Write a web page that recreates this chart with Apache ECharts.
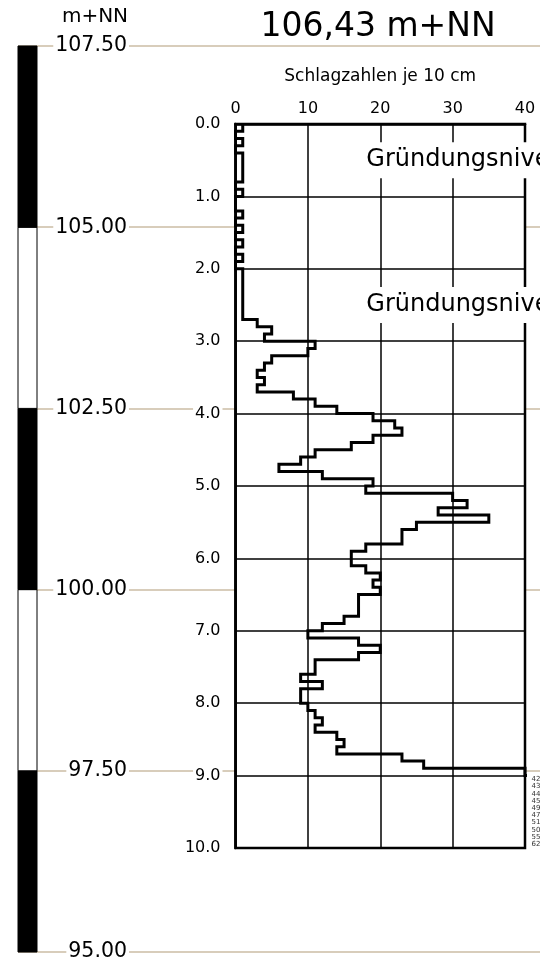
<!DOCTYPE html>
<html>
<head>
<meta charset="utf-8">
<title>Rammsondierung</title>
<script src="https://cdn.jsdelivr.net/npm/echarts@6/dist/echarts.min.js"></script>
<style>
  html, body { margin: 0; padding: 0; background: #fff; }
  #chart { width: 540px; height: 968px; }
</style>
</head>
<body>
<div id="chart"></div>
<script>
// Elevation scale (m+NN) on the left, bands listed from bottom to top
const elevationTicks = [95, 97.5, 100, 102.5, 105, 107.5];
const elevationBandColors = ['#000', '#fff', '#000', '#fff', '#000'];
const elevationUnit = 'm+NN';
const groundLevelText = '106,43 m+NN';

// Blow counts per 10 cm, starting at 0.0 m depth
const depthStep = 0.1;
const blowCounts = [
  1, 0, 1, 0, 1, 1, 1, 1, 0, 1,          // 0.0 - 0.9
  0, 0, 1, 0, 1, 0, 1, 0, 1, 0,          // 1.0 - 1.9
  1, 1, 1, 1, 1, 1, 1, 3, 5, 4,          // 2.0 - 2.9
  11, 10, 5, 4, 3, 4, 3, 8, 11, 14,      // 3.0 - 3.9
  19, 22, 23, 19, 16, 11, 9, 6, 12, 19,  // 4.0 - 4.9
  18, 30, 32, 28, 35, 25, 23, 23, 18, 16,// 5.0 - 5.9
  16, 18, 20, 19, 20, 17, 17, 17, 15, 12,// 6.0 - 6.9
  10, 17, 20, 17, 11, 11, 9, 12, 9, 9,   // 7.0 - 7.9
  10, 11, 12, 11, 14, 15, 14, 23, 26, 40,// 8.0 - 8.9
  42, 43, 44, 45, 49, 47, 51, 50, 55, 62 // 9.0 - 9.9
];
const blowAxisTicks = [0, 10, 20, 30, 40];
const depthRange = [0, 10];
const blowAxisTitle = 'Schlagzahlen je 10 cm';

// Foundation levels (depth in m)
const foundationDepths = [0.5, 2.5];
const foundationText = 'Gründungsniveau';

const FONT = 'DejaVu Sans';
const blowMax = blowAxisTicks[blowAxisTicks.length - 1];

// Step outline: each 10 cm interval becomes a vertical segment at its blow count
const stepPoints = [];
blowCounts.forEach((v, i) => {
  const top = +(i * depthStep).toFixed(1);
  const bottom = +((i + 1) * depthStep).toFixed(1);
  stepPoints.push([v, top], [v, bottom]);
});

// Counts beyond the axis maximum are written next to the plot
const overflowPoints = [];
blowCounts.forEach((v, i) => {
  if (v > blowMax) overflowPoints.push([blowMax, +(i * depthStep + depthStep / 2).toFixed(2), v]);
});

const bandData = elevationBandColors.map((c, i) => [elevationTicks[i], elevationTicks[i + 1], i]);

const chart = echarts.init(document.getElementById('chart'), null, { renderer: 'canvas' });

const option = {
  animation: false,
  backgroundColor: '#fff',
  textStyle: { fontFamily: FONT },
  title: [
    {
      text: elevationUnit, left: 95, top: 7, textAlign: 'center', padding: 0,
      textStyle: { fontFamily: FONT, fontSize: 20, fontWeight: 'normal', color: '#000' }
    },
    {
      text: groundLevelText, left: 378, top: 11, textAlign: 'center', padding: 0,
      textStyle: { fontFamily: FONT, fontSize: 33, fontWeight: 'normal', color: '#000' }
    }
  ],
  grid: [
    { left: 18, right: 0, top: 46, height: 906, z: 0, outerBoundsMode: 'none' },
    {
      left: 235.5, width: 289.5, top: 124, height: 724, z: 2, outerBoundsMode: 'none',
      show: true, backgroundColor: '#fff', borderColor: '#000', borderWidth: 2.5
    }
  ],
  xAxis: [
    { gridIndex: 0, type: 'value', min: 0, max: 1, show: false },
    {
      gridIndex: 1, type: 'value', position: 'top', z: 3,
      min: blowAxisTicks[0], max: blowMax, interval: blowAxisTicks[1] - blowAxisTicks[0],
      name: blowAxisTitle, nameLocation: 'middle', nameGap: 39,
      nameTextStyle: { fontFamily: FONT, fontSize: 17, color: '#000' },
      axisLine: { show: true, lineStyle: { color: '#000', width: 2.5 } },
      axisTick: { show: false },
      axisLabel: { fontFamily: FONT, fontSize: 16, color: '#000', margin: 7 },
      splitLine: { show: true, lineStyle: { color: '#000', width: 1.5 } }
    }
  ],
  yAxis: [
    {
      gridIndex: 0, type: 'value', z: 0,
      min: elevationTicks[0], max: elevationTicks[elevationTicks.length - 1],
      interval: elevationTicks[1] - elevationTicks[0],
      axisLine: { show: false }, axisTick: { show: false },
      axisLabel: {
        inside: true, align: 'right', margin: 111,
        fontFamily: FONT, fontSize: 20.5, color: '#000',
        backgroundColor: '#fff', padding: [0, 2],
        formatter: v => v.toFixed(2)
      },
      splitLine: { show: true, lineStyle: { color: '#cbbda5', width: 1.5 } }
    },
    {
      gridIndex: 1, type: 'value', inverse: true, z: 3,
      min: depthRange[0], max: depthRange[1], interval: 1,
      axisLine: { show: true, lineStyle: { color: '#000', width: 2.5 } },
      axisTick: { show: false },
      axisLabel: {
        fontFamily: FONT, fontSize: 16, color: '#000', margin: 13,
        backgroundColor: '#fff', padding: [2, 2],
        formatter: v => v.toFixed(1)
      },
      splitLine: { show: true, lineStyle: { color: '#000', width: 1.5 } }
    }
  ],
  series: [
    {
      name: 'elevationBands', type: 'custom', xAxisIndex: 0, yAxisIndex: 0, z: 2,
      data: bandData,
      renderItem: (params, api) => {
        const topPt = api.coord([0, api.value(1)]);
        const botPt = api.coord([0, api.value(0)]);
        return {
          type: 'rect',
          shape: { x: topPt[0], y: topPt[1], width: 19, height: botPt[1] - topPt[1] },
          style: { fill: elevationBandColors[api.value(2)], stroke: '#000', lineWidth: 1 }
        };
      }
    },
    {
      name: 'blows', type: 'line', xAxisIndex: 1, yAxisIndex: 1, z: 4,
      data: stepPoints, symbol: 'none', clip: true,
      lineStyle: { color: '#000', width: 3, join: 'miter', cap: 'butt' }
    },
    {
      name: 'foundation', type: 'scatter', xAxisIndex: 1, yAxisIndex: 1, z: 6,
      data: foundationDepths.map(d => [16.9, d]), clip: false,
      symbolSize: 1, itemStyle: { color: 'rgba(0,0,0,0)', opacity: 1 },
      label: {
        show: true, position: 'right', distance: 0, opacity: 1,
        formatter: () => foundationText,
        fontFamily: FONT, fontSize: 24, color: '#000',
        backgroundColor: '#fff', padding: [6, 0, 6, 8]
      }
    },
    {
      name: 'overflow', type: 'scatter', xAxisIndex: 1, yAxisIndex: 1, z: 6,
      data: overflowPoints, clip: false,
      symbolSize: 1, itemStyle: { color: 'rgba(0,0,0,0)', opacity: 1 },
      label: {
        show: true, position: 'right', distance: 6, opacity: 1,
        formatter: p => String(p.value[2]),
        fontFamily: FONT, fontSize: 7, color: '#333'
      }
    }
  ]
};

chart.setOption(option);
</script>
</body>
</html>
